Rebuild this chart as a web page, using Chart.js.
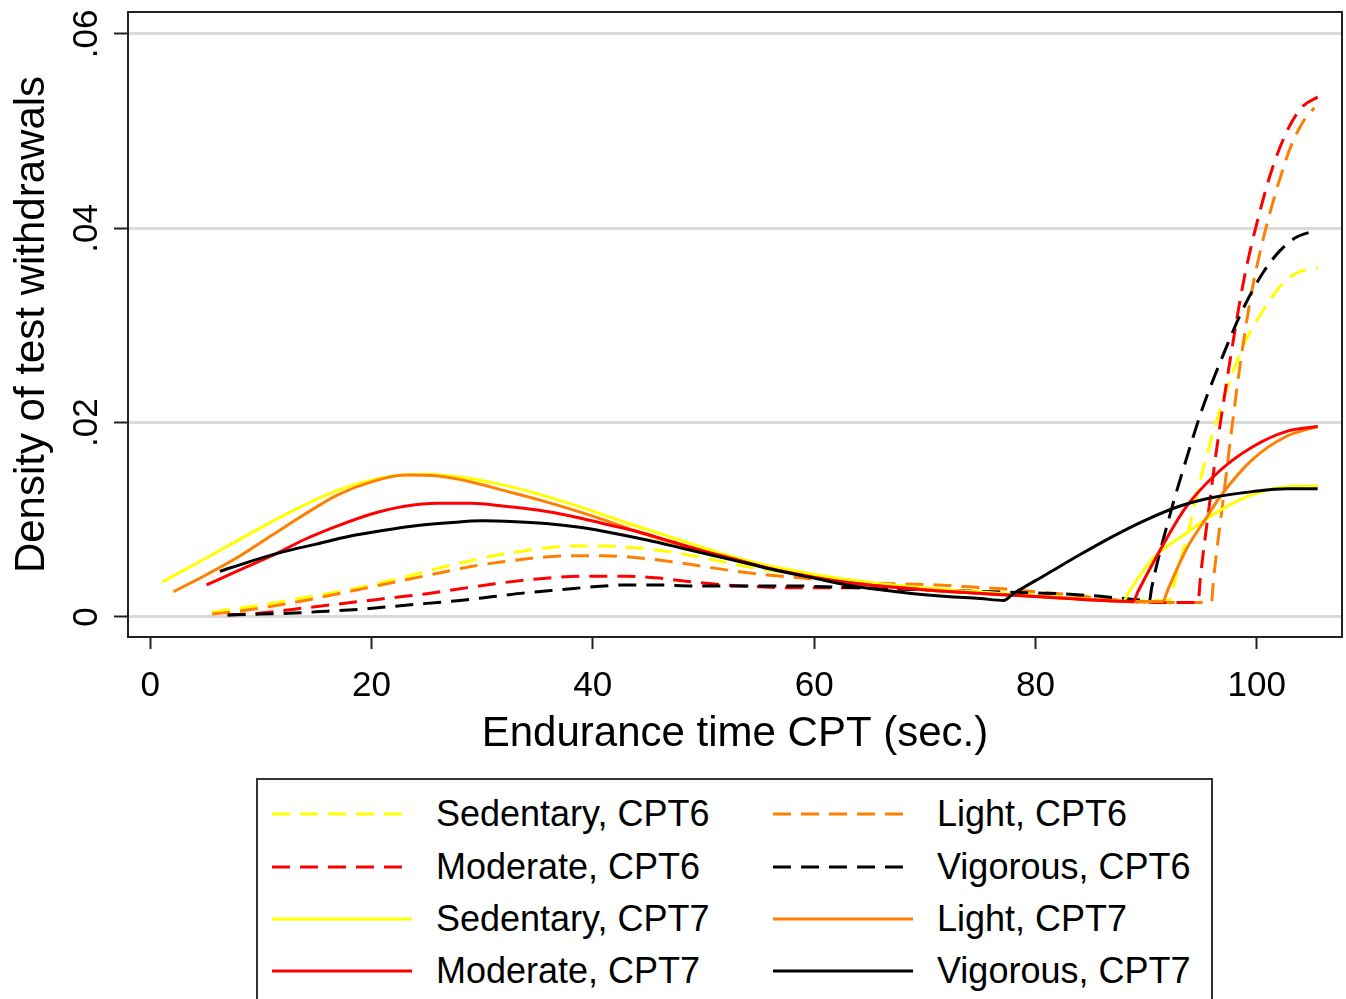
<!DOCTYPE html>
<html><head><meta charset="utf-8">
<script src="https://cdn.jsdelivr.net/npm/chart.js@4"></script>
<style>
html,body{margin:0;padding:0;background:#fff;overflow:hidden;}
#wrap{position:relative;width:1346px;height:999px;}
#legend{position:absolute;left:256px;top:778px;width:953px;height:240px;border:2px solid #333;font-family:'Liberation Sans',Arial,sans-serif;font-size:36px;color:#000;background:#fff;}
.lbl{position:absolute;line-height:42px;white-space:nowrap;}
.smp{position:absolute;}
</style></head>
<body>
<div id="wrap"><canvas id="c"></canvas><div id="legend"></div></div>
<script>
// ---- data ----
const xTickValues = [0, 20, 40, 60, 80, 100];
const yTickValues = [0, 0.02, 0.04, 0.06];
const yTickLabels = ['0', '.02', '.04', '.06'];

const seriesNames = ['Sedentary, CPT6', 'Light, CPT6', 'Moderate, CPT6', 'Vigorous, CPT6',
                     'Sedentary, CPT7', 'Light, CPT7', 'Moderate, CPT7', 'Vigorous, CPT7'];

const sedCpt6X = [5.6, 8, 11, 14, 17, 20, 23, 26, 29, 32, 35, 38, 41, 44, 47, 50, 53, 56, 59, 62, 65, 68, 71, 74, 77, 80, 83, 86, 89, 92.1, 92.5, 93.7, 95.1, 96.7, 98.9, 100.6, 102.1, 103.6, 105.5];
const sedCpt6Y = [0.0005, 0.0009, 0.0014, 0.0020, 0.0026, 0.0033, 0.0041, 0.0050, 0.0058, 0.0065, 0.0070, 0.0073, 0.0073, 0.0071, 0.0067, 0.0061, 0.0054, 0.0048, 0.0043, 0.0039, 0.0035, 0.0032, 0.0029, 0.0027, 0.0025, 0.0023, 0.0021, 0.0019, 0.0017, 0.0017, 0.0033, 0.0083, 0.0150, 0.0214, 0.0282, 0.0316, 0.0340, 0.0354, 0.0359];

const lightCpt6X = [5.6, 8, 11, 14, 17, 20, 23, 26, 29, 32, 35, 38, 41, 44, 47, 50, 53, 56, 59, 62, 65, 68, 71, 74, 77, 80, 83, 86, 89, 90.5, 95.9, 96.1, 96.9, 97.7, 98.5, 99.5, 100.6, 101.8, 103, 104.2, 105.2];
const lightCpt6Y = [0.0003, 0.0006, 0.0011, 0.0017, 0.0024, 0.0031, 0.0038, 0.0045, 0.0052, 0.0057, 0.0061, 0.0063, 0.0063, 0.0061, 0.0057, 0.0052, 0.0047, 0.0043, 0.0040, 0.0037, 0.0035, 0.0034, 0.0033, 0.0031, 0.0029, 0.0026, 0.0023, 0.0019, 0.0016, 0.0015, 0.0015, 0.0040, 0.0115, 0.0190, 0.0260, 0.0332, 0.0390, 0.0440, 0.0482, 0.0510, 0.0524];

const modCpt6X = [7, 10, 13, 16, 19, 22, 25, 28, 31, 34, 37, 40, 43, 46, 49, 52, 55, 58, 61, 64, 67, 70, 73, 76, 79, 82, 85, 88, 91, 94.7, 94.9, 95.6, 96.4, 97.6, 98.8, 100, 101.5, 103, 104.2, 105.5];
const modCpt6Y = [0.0002, 0.0004, 0.0008, 0.0012, 0.0016, 0.0020, 0.0024, 0.0029, 0.0034, 0.0038, 0.0041, 0.0042, 0.0042, 0.0040, 0.0036, 0.0033, 0.0031, 0.0030, 0.0030, 0.0030, 0.0029, 0.0028, 0.0026, 0.0024, 0.0022, 0.0020, 0.0018, 0.0016, 0.0015, 0.0015, 0.0040, 0.0105, 0.0175, 0.0265, 0.0345, 0.0405, 0.0465, 0.0506, 0.0526, 0.0535];

const vigCpt6X = [7, 10, 13, 16, 19, 22, 25, 28, 31, 34, 37, 40, 43, 46, 49, 52, 55, 58, 61, 64, 67, 70, 73, 76, 79, 82, 85, 88, 90.3, 90.5, 92.1, 93.7, 95.1, 96.9, 98.8, 100.6, 102.1, 103.6, 105.5];
const vigCpt6Y = [0.0002, 0.0003, 0.0004, 0.0006, 0.0008, 0.0011, 0.0014, 0.0017, 0.0021, 0.0025, 0.0028, 0.0031, 0.0033, 0.0033, 0.0032, 0.0032, 0.0032, 0.0032, 0.0031, 0.0030, 0.0029, 0.0028, 0.0027, 0.0026, 0.0025, 0.0024, 0.0022, 0.0019, 0.0017, 0.0030, 0.0103, 0.0165, 0.0215, 0.0268, 0.0318, 0.0355, 0.0377, 0.0391, 0.0398];

const sedCpt7X = [1.1, 4, 7, 10, 13, 16, 19, 22, 25, 28, 31, 34, 37, 40, 43, 46, 49, 52, 55, 58, 61, 64, 67, 70, 73, 76, 79, 82, 85, 87.9, 88.5, 90.6, 93.6, 96.7, 99.6, 102.7, 105.5];
const sedCpt7Y = [0.0036, 0.0054, 0.0073, 0.0092, 0.0110, 0.0126, 0.0138, 0.0145, 0.0147, 0.0144, 0.0138, 0.0130, 0.0120, 0.0109, 0.0097, 0.0086, 0.0075, 0.0064, 0.0055, 0.0048, 0.0042, 0.0037, 0.0033, 0.0030, 0.0027, 0.0025, 0.0022, 0.0020, 0.0018, 0.0016, 0.0027, 0.0060, 0.0086, 0.0110, 0.0126, 0.0134, 0.0135];

const lightCpt7X = [2.1, 5, 8, 11, 14, 17, 20, 23, 26, 29, 32, 35, 38, 41, 44, 47, 50, 53, 56, 59, 62, 65, 68, 71, 74, 77, 80, 83, 86, 89, 91.5, 92, 93.6, 95.5, 96.7, 99.6, 102.7, 105.5];
const lightCpt7Y = [0.0026, 0.0043, 0.0062, 0.0084, 0.0106, 0.0126, 0.0139, 0.0146, 0.0145, 0.0139, 0.0130, 0.0121, 0.0111, 0.0100, 0.0088, 0.0077, 0.0067, 0.0058, 0.0050, 0.0043, 0.0037, 0.0033, 0.0030, 0.0027, 0.0025, 0.0023, 0.0021, 0.0019, 0.0017, 0.0016, 0.0016, 0.0029, 0.0069, 0.0103, 0.0124, 0.0162, 0.0186, 0.0196];

const modCpt7X = [5.1, 8, 11, 14, 17, 20, 23, 26, 29, 32, 35, 38, 41, 44, 47, 50, 53, 56, 59, 62, 65, 68, 71, 74, 77, 80, 83, 86, 88.8, 89.3, 90.6, 93.6, 96.7, 99.6, 102.7, 105.5];
const modCpt7Y = [0.0033, 0.0048, 0.0063, 0.0080, 0.0094, 0.0106, 0.0114, 0.0117, 0.0117, 0.0114, 0.0110, 0.0104, 0.0096, 0.0088, 0.0078, 0.0068, 0.0059, 0.0050, 0.0043, 0.0037, 0.0033, 0.0030, 0.0027, 0.0025, 0.0023, 0.0021, 0.0019, 0.0017, 0.0016, 0.0027, 0.0055, 0.0113, 0.0151, 0.0175, 0.0191, 0.0196];

const vigCpt7X = [6.3, 9, 12, 15, 18, 21, 24, 27, 30, 33, 36, 39, 42, 45, 48, 51, 54, 57, 60, 63, 66, 69, 72, 75, 77.1, 78, 81, 84, 87, 90, 93, 96, 99.6, 102.7, 105.5];
const vigCpt7Y = [0.0047, 0.0057, 0.0067, 0.0075, 0.0083, 0.0089, 0.0094, 0.0097, 0.0099, 0.0098, 0.0096, 0.0092, 0.0086, 0.0079, 0.0071, 0.0063, 0.0055, 0.0047, 0.0040, 0.0033, 0.0028, 0.0024, 0.0021, 0.0019, 0.0017, 0.0024, 0.0044, 0.0064, 0.0083, 0.0100, 0.0114, 0.0123, 0.0129, 0.0132, 0.0132];

// ---- styles ----
const seriesX = [sedCpt6X, lightCpt6X, modCpt6X, vigCpt6X, sedCpt7X, lightCpt7X, modCpt7X, vigCpt7X];
const seriesY = [sedCpt6Y, lightCpt6Y, modCpt6Y, vigCpt6Y, sedCpt7Y, lightCpt7Y, modCpt7Y, vigCpt7Y];
const seriesColors = ['#ffff00', '#ff8000', '#ff0000', '#000000', '#ffff00', '#ff8000', '#ff0000', '#000000'];
const DASH = [18, 10];
const seriesDash = [DASH, DASH, DASH, DASH, [], [], [], []];
const FONT = "'Liberation Sans', Arial, sans-serif";

const datasets = seriesNames.map((name, i) => ({
  label: name,
  data: seriesX[i].map((x, j) => ({x: x, y: seriesY[i][j]})),
  borderColor: seriesColors[i],
  borderWidth: 3,
  borderDash: seriesDash[i],
  pointRadius: 0,
  fill: false,
  cubicInterpolationMode: 'monotone',
  order: 8 - i
}));

const framePlugin = {
  id: 'frame',
  afterDatasetsDraw(chart) {
    const {ctx, chartArea: a} = chart;
    ctx.save();
    ctx.strokeStyle = '#222';
    ctx.lineWidth = 2;
    ctx.strokeRect(a.left, a.top, a.right - a.left, a.bottom - a.top);
    ctx.restore();
  },
  afterDraw(chart) {
    const ys = chart.scales.y;
    const ctx = chart.ctx;
    ctx.save();
    ctx.font = '35px ' + FONT;
    ctx.fillStyle = '#000';
    ctx.textAlign = 'center';
    ctx.textBaseline = 'middle';
    yTickValues.forEach((v, i) => {
      const py = ys.getPixelForValue(v);
      ctx.save();
      ctx.translate(87, py);
      ctx.rotate(-Math.PI / 2);
      ctx.fillText(yTickLabels[i], 0, 0);
      ctx.restore();
    });
    ctx.restore();
  }
};

new Chart(document.getElementById('c'), {
  type: 'line',
  data: {datasets: datasets},
  options: {
    responsive: true,
    maintainAspectRatio: false,
    animation: false,
    events: [],
    layout: {padding: {left: 0, right: 4, top: 12, bottom: 232}},
    plugins: {legend: {display: false}, tooltip: {enabled: false}},
    scales: {
      x: {
        type: 'linear',
        min: -2,
        max: 107.7,
        afterBuildTicks: s => { s.ticks = xTickValues.map(v => ({value: v})); },
        afterFit: s => { s.height = 130; },
        ticks: {font: {family: FONT, size: 35}, color: '#000', padding: 16, maxRotation: 0, autoSkip: false},
        grid: {drawOnChartArea: false, drawTicks: true, tickLength: 12, tickColor: '#222', tickWidth: 2, color: '#222'},
        border: {display: false},
        title: {display: true, text: 'Endurance time CPT (sec.)', color: '#000', font: {family: FONT, size: 42}, padding: {top: 0, bottom: 7}}
      },
      y: {
        type: 'linear',
        min: -0.00206,
        max: 0.06226,
        afterBuildTicks: s => { s.ticks = yTickValues.map(v => ({value: v})); },
        afterFit: s => { s.width = 128; },
        ticks: {display: false},
        grid: {color: '#dadada', lineWidth: 3, drawTicks: true, tickLength: 14, tickColor: '#222', tickWidth: 2},
        border: {display: false},
        title: {display: true, text: 'Density of test withdrawals', color: '#000', font: {family: FONT, size: 42}, padding: {top: 7, bottom: 0}}
      }
    }
  },
  plugins: [framePlugin]
});

// ---- legend (HTML) ----
const legendOrder = [0, 1, 2, 3, 4, 5, 6, 7];
const legendRowCenters = [34, 87, 139, 191];
const legendColSample = [14, 515];
const legendColText = [178, 679];
const leg = document.getElementById('legend');
legendOrder.forEach((si, k) => {
  const row = Math.floor(k / 2), col = k % 2;
  const cy = legendRowCenters[row];
  const svgNS = 'http://www.w3.org/2000/svg';
  const svg = document.createElementNS(svgNS, 'svg');
  svg.setAttribute('class', 'smp');
  svg.setAttribute('width', '140');
  svg.setAttribute('height', '10');
  svg.style.left = legendColSample[col] + 'px';
  svg.style.top = (cy - 5) + 'px';
  const ln = document.createElementNS(svgNS, 'line');
  ln.setAttribute('x1', '0'); ln.setAttribute('y1', '5');
  ln.setAttribute('x2', '140'); ln.setAttribute('y2', '5');
  ln.setAttribute('stroke', seriesColors[si]);
  ln.setAttribute('stroke-width', '3');
  if (seriesDash[si].length) ln.setAttribute('stroke-dasharray', seriesDash[si].join(' '));
  svg.appendChild(ln);
  leg.appendChild(svg);
  const t = document.createElement('div');
  t.className = 'lbl';
  t.textContent = seriesNames[si];
  t.style.left = legendColText[col] + 'px';
  t.style.top = (cy - 21) + 'px';
  leg.appendChild(t);
});
</script>
</body></html>
